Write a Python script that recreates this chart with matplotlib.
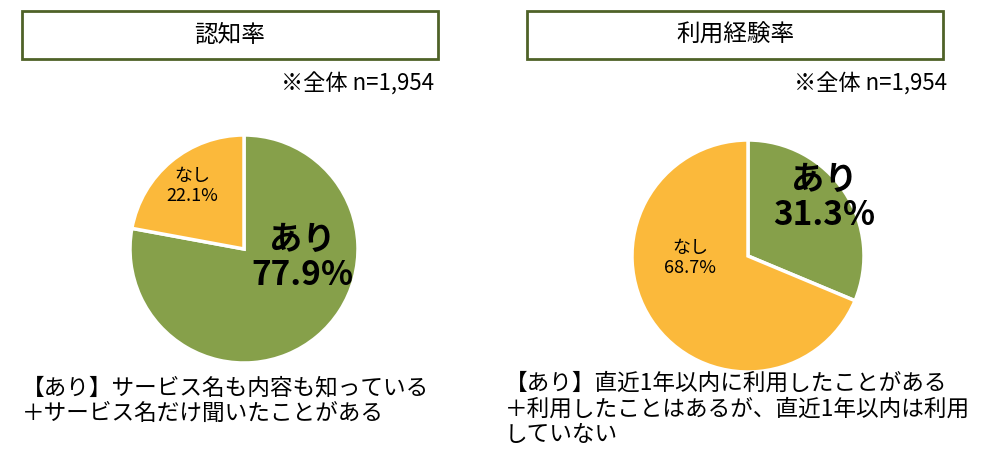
import matplotlib
matplotlib.use("Agg")
import matplotlib.pyplot as plt
from matplotlib.patches import Rectangle

plt.rcParams["font.family"] = "Noto Sans CJK JP"

titles = ["認知率", "利用経験率"]
labels = ["あり", "なし"]
left_values = [77.9, 22.1]
right_values = [31.3, 68.7]
note = "※全体 n=1,954"
left_caption = "【あり】サービス名も内容も知っている\n＋サービス名だけ聞いたことがある"
right_caption = "【あり】直近1年以内に利用したことがある\n＋利用したことはあるが、直近1年以内は利用\nしていない"

W, H = 1005, 464
colors = ["#86A04A", "#FBB93B"]
fig = plt.figure(figsize=(W/100, H/100), dpi=100)

def px(x, y):
    return x / W, 1 - y / H

def pie(cx, cy, r, values):
    ax = fig.add_axes([(cx - r) / W, 1 - (cy + r) / H, 2 * r / W, 2 * r / H])
    ax.pie(values, colors=colors, startangle=90, counterclock=False,
           wedgeprops=dict(edgecolor="white", linewidth=2.5))
    ax.set_aspect("auto")
    ax.set_xlim(-1, 1); ax.set_ylim(-1, 1)
    return ax

pie(244, 250, 114, left_values)
pie(748, 257, 116, right_values)

for (x0, t) in [(22, titles[0]), (527, titles[1])]:
    fig.patches.append(Rectangle(px(x0, 60), 416 / W, 48 / H, transform=fig.transFigure,
                                 fill=False, edgecolor="#4F6228", linewidth=2))
    fig.text(*px(x0 + 208, 35), t, ha="center", va="center", fontsize=17)

fig.text(*px(434, 84), note, ha="right", va="center", fontsize=16)
fig.text(*px(947, 84), note, ha="right", va="center", fontsize=16)

fig.text(*px(192, 186), f"{labels[1]}\n{left_values[1]}%", ha="center", va="center", fontsize=13, linespacing=1.15)
fig.text(*px(302, 258), f"{labels[0]}\n{left_values[0]}%", ha="center", va="center", fontsize=24, fontweight="bold", linespacing=1.05)
fig.text(*px(824, 198), f"{labels[0]}\n{right_values[0]}%", ha="center", va="center", fontsize=24, fontweight="bold", linespacing=1.05)
fig.text(*px(690, 258), f"{labels[1]}\n{right_values[1]}%", ha="center", va="center", fontsize=13, linespacing=1.15)

fig.text(*px(22, 376), left_caption, ha="left", va="top", fontsize=16.3, linespacing=1.15)
fig.text(*px(505, 372), right_caption, ha="left", va="top", fontsize=16.3, linespacing=1.15)

fig.savefig("out.png", dpi=100)
